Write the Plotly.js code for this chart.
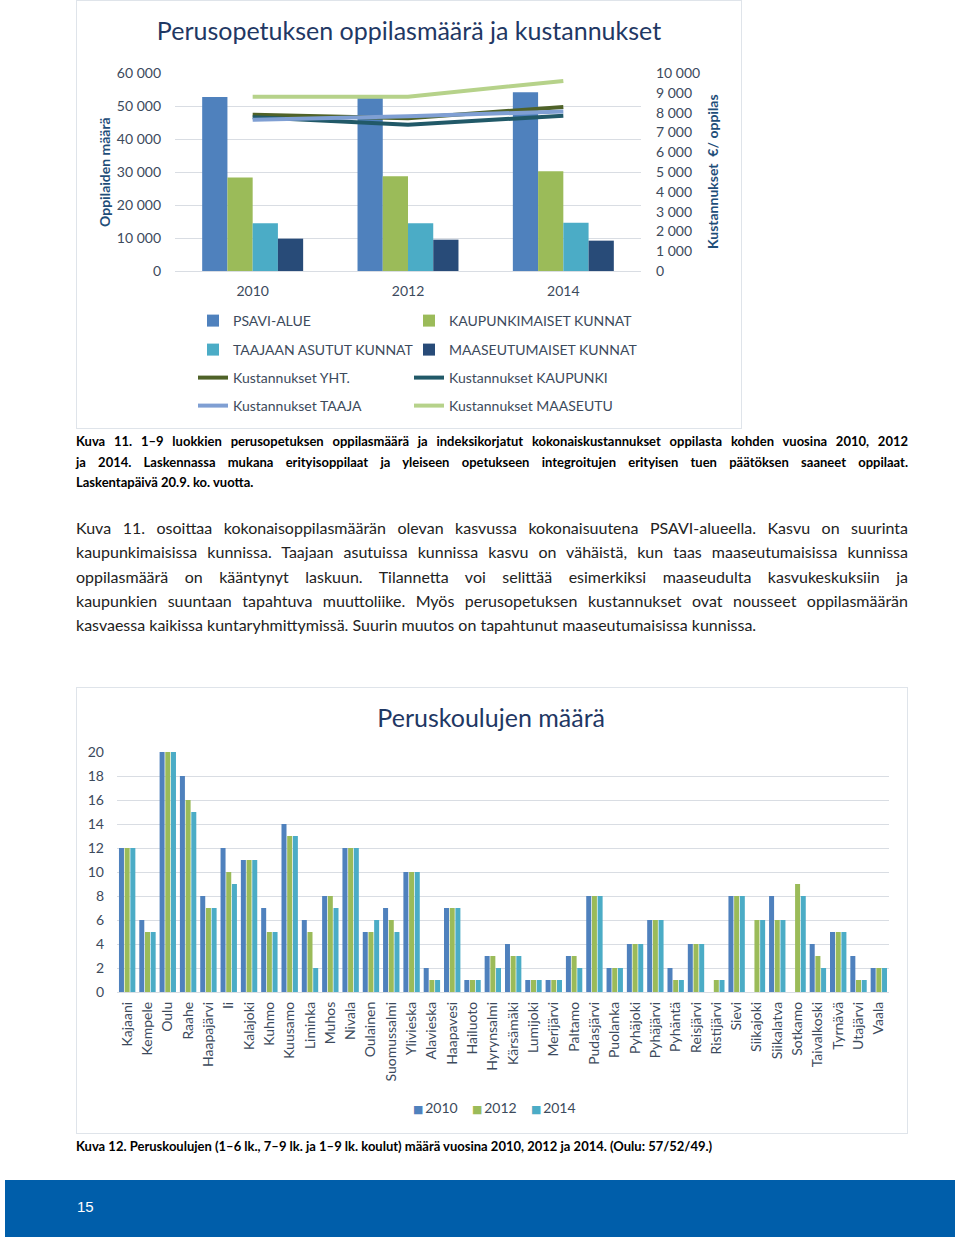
<!DOCTYPE html>
<html>
<head>
<meta charset="utf-8">
<script src="https://cdn.plot.ly/plotly-3.0.1.min.js"></script>
<style>
  html, body { margin:0; padding:0; background:#fff; }
  body { width:960px; height:1237px; position:relative; overflow:hidden; font-family:Lato, "Open Sans", sans-serif; }
  .frame { position:absolute; border:1px solid #dfe4ea; background:#fff; }
  .line { position:absolute; left:76px; width:832px; white-space:nowrap; text-align:justify; text-align-last:justify; color:#1a1a1a; }
  .last { text-align-last:left; }
  .cap { font-size:13px; font-weight:700; height:20px; line-height:20px; color:#000; }
  .par { font-size:16px; height:24px; line-height:24px; color:#222; }
  #footer { position:absolute; left:5px; top:1180px; width:950px; height:57px; background:#005eaa; }
  #footer span { position:absolute; left:72px; top:18px; color:#fff; font-family:"Liberation Sans", Arial, sans-serif; font-size:15px; }
</style>
</head>
<body>
<div class="frame" style="left:76px;top:0px;width:664px;height:427px;"><div id="chart1" style="width:664px;height:427px;"></div></div>

<div class="line cap" style="top:431px;">Kuva 11. 1–9 luokkien perusopetuksen oppilasmäärä ja indeksikorjatut kokonaiskustannukset oppilasta kohden vuosina 2010, 2012</div>
<div class="line cap" style="top:452px;">ja 2014. Laskennassa mukana erityisoppilaat ja yleiseen opetukseen integroitujen erityisen tuen päätöksen saaneet oppilaat.</div>
<div class="line cap last" style="top:472px;">Laskentapäivä 20.9. ko. vuotta.</div>

<div class="line par" style="top:516px;">Kuva 11. osoittaa kokonaisoppilasmäärän olevan kasvussa kokonaisuutena PSAVI-alueella. Kasvu on suurinta</div>
<div class="line par" style="top:540px;">kaupunkimaisissa kunnissa. Taajaan asutuissa kunnissa kasvu on vähäistä, kun taas maaseutumaisissa kunnissa</div>
<div class="line par" style="top:565px;">oppilasmäärä on kääntynyt laskuun. Tilannetta voi selittää esimerkiksi maaseudulta kasvukeskuksiin ja</div>
<div class="line par" style="top:589px;">kaupunkien suuntaan tapahtuva muuttoliike. Myös perusopetuksen kustannukset ovat nousseet oppilasmäärän</div>
<div class="line par last" style="top:613px;">kasvaessa kaikissa kuntaryhmittymissä. Suurin muutos on tapahtunut maaseutumaisissa kunnissa.</div>

<div class="frame" style="left:76px;top:687px;width:830px;height:445px;"><div id="chart2" style="width:830px;height:445px;"></div></div>

<div class="line cap last" style="top:1136px;">Kuva 12. Peruskoulujen (1–6 lk., 7–9 lk. ja 1–9 lk. koulut) määrä vuosina 2010, 2012 ja 2014. (Oulu: 57/52/49.)</div>

<div id="footer"><span>15</span></div>

<script>
// ---------- Chart 1 data ----------
const years = ['2010', '2012', '2014'];
const psaviAlue = [52700, 52400, 54200];
const kaupunkimaiset = [28300, 28700, 30200];
const taajaanAsutut = [14500, 14500, 14600];
const maaseutumaiset = [9800, 9500, 9200];
const kustYht = [7890, 7720, 8280];
const kustKaupunki = [7770, 7390, 7840];
const kustTaaja = [7640, 7810, 8060];
const kustMaaseutu = [8800, 8800, 9600];

// ---------- Chart 2 data ----------
const kunnat = ['Kajaani','Kempele','Oulu','Raahe','Haapajärvi','Ii','Kalajoki','Kuhmo','Kuusamo','Liminka','Muhos','Nivala','Oulainen','Suomussalmi','Ylivieska','Alavieska','Haapavesi','Hailuoto','Hyrynsalmi','Kärsämäki','Lumijoki','Merijärvi','Paltamo','Pudasjärvi','Puolanka','Pyhäjoki','Pyhäjärvi','Pyhäntä','Reisjärvi','Ristijärvi','Sievi','Siikajoki','Siikalatva','Sotkamo','Taivalkoski','Tyrnävä','Utajärvi','Vaala'];
const vuodet2 = ['2010', '2012', '2014'];
const koulut2010 = [12,6,57,18,8,12,11,7,14,6,8,12,5,7,10,2,7,1,3,4,1,1,3,8,2,4,6,2,4,0,8,0,8,0,4,5,3,2];
const koulut2012 = [12,5,52,16,7,10,11,5,13,5,8,12,5,6,10,1,7,1,3,3,1,1,3,8,2,4,6,1,4,1,8,6,6,9,3,5,1,2];
const koulut2014 = [12,5,49,15,7,9,11,5,13,2,7,12,6,5,10,1,7,1,2,3,1,1,2,8,2,4,6,1,4,1,8,6,6,8,2,5,1,2];

const FONT = 'Lato, "Open Sans", sans-serif';
const TICK = '#3c4a5c';
const TITLE = '#1f3864';

const cBlue = '#4f81bd', cGreen = '#9bbb59', cTeal = '#4bacc6', cNavy = '#284b78';

function bar(name, y, color, legend) {
  return {type:'bar', name, x:years, y, marker:{color}, yaxis:'y', legend, showlegend:true};
}
function ln(name, y, color, legend) {
  return {type:'scatter', mode:'lines', name, x:years, y, yaxis:'y2', line:{color, width:4}, legend, showlegend:true};
}

const traces1 = [
  bar('PSAVI-ALUE', psaviAlue, cBlue, 'legend'),
  bar('KAUPUNKIMAISET KUNNAT', kaupunkimaiset, cGreen, 'legend2'),
  bar('TAAJAAN ASUTUT KUNNAT', taajaanAsutut, cTeal, 'legend3'),
  bar('MAASEUTUMAISET KUNNAT', maaseutumaiset, cNavy, 'legend4'),
  ln('Kustannukset YHT.', kustYht, '#4f6228', 'legend5'),
  ln('Kustannukset KAUPUNKI', kustKaupunki, '#215968', 'legend6'),
  ln('Kustannukset TAAJA', kustTaaja, '#7f9fd3', 'legend7'),
  ln('Kustannukset MAASEUTU', kustMaaseutu, '#b6d28a', 'legend8')
];

// legend item positions in chart-1 pixel coordinates (left edge, row centre)
function leg(xleft, ycenter) {
  return {orientation:'v', x:xleft/664, xref:'container', y:1 - ycenter/427, yref:'container',
          xanchor:'left', yanchor:'middle',
          font:{family:FONT, size:14, color:TICK}, bgcolor:'rgba(0,0,0,0)'};
}
const c1 = 116, c2 = 332;

const layout1 = {
  width:664, height:427,
  showlegend:true,
  margin:{l:98, r:100, t:72, b:157, autoexpand:false},
  paper_bgcolor:'#fff', plot_bgcolor:'#fff',
  separators:', ',
  title:{text:'Perusopetuksen oppilasmäärä ja kustannukset', x:0.5, xanchor:'center', y:1 - 30/427, yanchor:'middle',
         font:{family:FONT, size:25, color:TITLE}},
  barmode:'group', bargap:0.35, bargroupgap:0,
  xaxis:{type:'category', tickfont:{family:FONT, size:14, color:TICK}, showline:false, ticks:'', ticklabelstandoff:10},
  yaxis:{range:[0,60000], dtick:10000, tickformat:',', gridcolor:'#d9dde3', gridwidth:1, zeroline:true, zerolinecolor:'#d9dde3',
         tickfont:{family:FONT, size:14, color:TICK}, ticklabelstandoff:13},
  yaxis2:{overlaying:'y', side:'right', range:[0,10000], dtick:1000, tickformat:',', showgrid:false, zeroline:false,
         tickfont:{family:FONT, size:14, color:TICK}, ticklabelstandoff:14},
  legend:leg(c1, 320), legend2:leg(c2, 320),
  legend3:leg(c1, 349), legend4:leg(c2, 349),
  legend5:leg(c1, 377), legend6:leg(c2, 377),
  legend7:leg(c1, 405), legend8:leg(c2, 405),
  annotations:[
    {text:'<b>Oppilaiden määrä</b>', textangle:-90, xref:'paper', yref:'paper', x:-(98-27)/466, y:0.5, xanchor:'center', yanchor:'middle',
     showarrow:false, font:{family:FONT, size:14, color:'#1f4e79'}},
    {text:'<b>Kustannukset  €/ oppilas</b>', textangle:-90, xref:'paper', yref:'paper', x:1 + (635-564)/466, y:0.5, xanchor:'center', yanchor:'middle',
     showarrow:false, font:{family:FONT, size:14, color:'#1f4e79'}}
  ]
};

Plotly.newPlot('chart1', traces1, layout1, {staticPlot:true, displayModeBar:false});

// ---------- Chart 2 ----------
const colors2 = [cBlue, cGreen, cTeal];
const series2 = [koulut2010, koulut2012, koulut2014];
const traces2 = vuodet2.map((v, i) => ({type:'bar', name:v, x:kunnat, y:series2[i], marker:{color:colors2[i]}, showlegend:false}));
const legendText2 = vuodet2.map((v, i) => '<span style="color:' + colors2[i] + ';font-family:DejaVu Sans;font-size:11px">■</span>\u2009' + v).join('\u00a0\u00a0\u00a0\u00a0');

const layout2 = {
  width:830, height:445,
  margin:{l:40, r:18, t:64, b:141, autoexpand:false},
  paper_bgcolor:'#fff', plot_bgcolor:'#fff',
  title:{text:'Peruskoulujen määrä', x:0.499, xanchor:'center', y:1 - 30/445, yanchor:'middle',
         font:{family:FONT, size:25, color:TITLE}},
  barmode:'group', bargap:0.16, bargroupgap:0.12,
  xaxis:{type:'category', tickangle:-90, tickfont:{family:FONT, size:14, color:TICK}, ticks:'', ticklabelstandoff:6, showline:false},
  yaxis:{range:[0,20], dtick:2, gridcolor:'#d9dde3', zeroline:true, zerolinecolor:'#d9dde3',
         tickfont:{family:FONT, size:14, color:TICK}, ticklabelstandoff:12},
  showlegend:false,
  annotations:[
    {text:legendText2, xref:'paper', yref:'paper', x:(494-117)/772, y:-(1107-992)/240, xanchor:'center', yanchor:'middle',
     showarrow:false, font:{family:FONT, size:14, color:TICK}}
  ]
};
Plotly.newPlot('chart2', traces2, layout2, {staticPlot:true, displayModeBar:false});

// keep justified single-line texts within their width
document.querySelectorAll('.line').forEach(el => {
  let ls = 0;
  while (el.scrollWidth > el.clientWidth + 0.5 && ls > -1.5) {
    ls -= 0.05;
    el.style.letterSpacing = ls + 'px';
  }
});
</script>
</body>
</html>
